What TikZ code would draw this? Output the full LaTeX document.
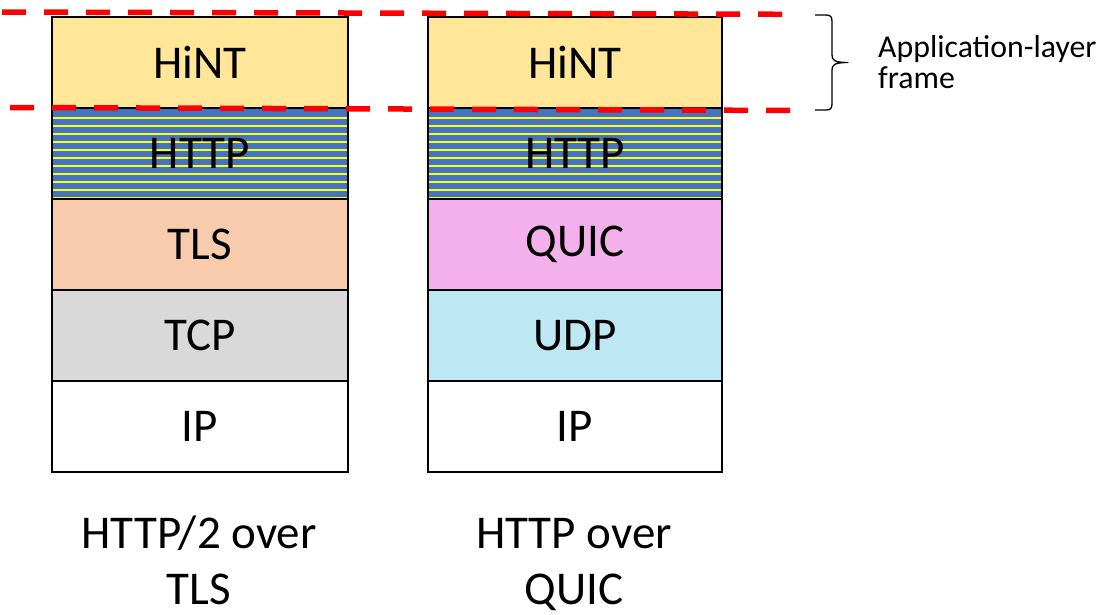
\documentclass[tikz,border=0pt]{standalone}
\usepackage{fontspec}
\setmainfont{Carlito}
\definecolor{hintc}{HTML}{FFE699}
\definecolor{httpblue}{HTML}{4472C4}
\definecolor{stripe}{HTML}{FFFF00}
\definecolor{tlsc}{HTML}{F8CBAD}
\definecolor{tcpc}{HTML}{D9D9D9}
\definecolor{quicc}{HTML}{F4B0EA}
\definecolor{udpc}{HTML}{BDE7F3}
\definecolor{framered}{HTML}{FF0000}
\begin{document}
\begin{tikzpicture}[x=1pt,y=-1pt,
  layer/.style={draw=black, line width=2pt, minimum height=91pt, anchor=north west,
    inner sep=0pt, text=black, font=\fontsize{47}{50}\selectfont},
  leftw/.style={minimum width=296pt},
  rightw/.style={minimum width=294pt},
  httpbox/.style={layer, fill=httpblue,
    path picture={\foreach \k in {1,...,11}{
      \draw[stripe, line width=2pt]
        ([yshift={-(1.7+8*\k)*1pt}]path picture bounding box.north west) --
        ([yshift={-(1.7+8*\k)*1pt}]path picture bounding box.north east);}}},
  caption/.style={anchor=base, inner sep=0pt, font=\fontsize{47}{50}\selectfont},
  sidetext/.style={anchor=base west, inner sep=0pt, font=\fontsize{31.8}{34}\selectfont},
  reddash/.style={draw=framered, line width=5.5pt, dash pattern=on 24pt off 18pt},
  bracepath/.style={draw=black, line width=1.3pt, line join=round}
]
\useasboundingbox (0,0) rectangle (1107,614);

% left stack
\node[layer, leftw, fill=hintc] (lhint) at (51,16) {HiNT};
\node[httpbox, leftw] (lhttp) at (51,107) {HTTP};
\node[layer, leftw, fill=tlsc] (ltls) at (51,198) {TLS};
\node[layer, leftw, fill=tcpc] (ltcp) at (51,289) {TCP};
\node[layer, leftw, fill=white] (lip) at (51,380) {IP};

% right stack
\node[layer, rightw, fill=hintc] (rhint) at (427,16) {HiNT};
\node[httpbox, rightw] (rhttp) at (427,107) {HTTP};
\node[layer, rightw, fill=quicc] (rquic) at (427,198) {QUIC};
\node[layer, rightw, fill=udpc] (rudp) at (427,289) {UDP};
\node[layer, rightw, fill=white] (rip) at (427,380) {IP};

% captions
\node[caption] (lcap1) at (199,548) {HTTP/2 over};
\node[caption] (lcap2) at (199,604) {TLS};
\node[caption] (rcap1) at (574,548) {HTTP over};
\node[caption] (rcap2) at (574,604) {QUIC};

% red dashed frame lines
\coordinate (ta) at (2,12);
\coordinate (tb) at (792,14.3);
\coordinate (ba) at (10,107.5);
\coordinate (bb) at (800,110.5);
\draw[reddash] (ta) -- (tb);
\draw[reddash] (ba) -- (bb);

% brace
\coordinate (br1) at (815,15);
\coordinate (br2) at (815,110);
\coordinate (brtip) at (848,62.5);
\draw[bracepath] (br1) -- (826,15) .. controls (831,15) and (832,17) .. (832,22)
  -- (832,55) .. controls (832,60) and (834,62.5) .. (brtip)
  .. controls (834,62.5) and (832,65) .. (832,70)
  -- (832,103) .. controls (832,108) and (831,110) .. (826,110) -- (br2);

\node[sidetext] (st1) at (878,57) {Application-layer};
\node[sidetext] (st2) at (878,88) {frame};
\end{tikzpicture}
\end{document}
